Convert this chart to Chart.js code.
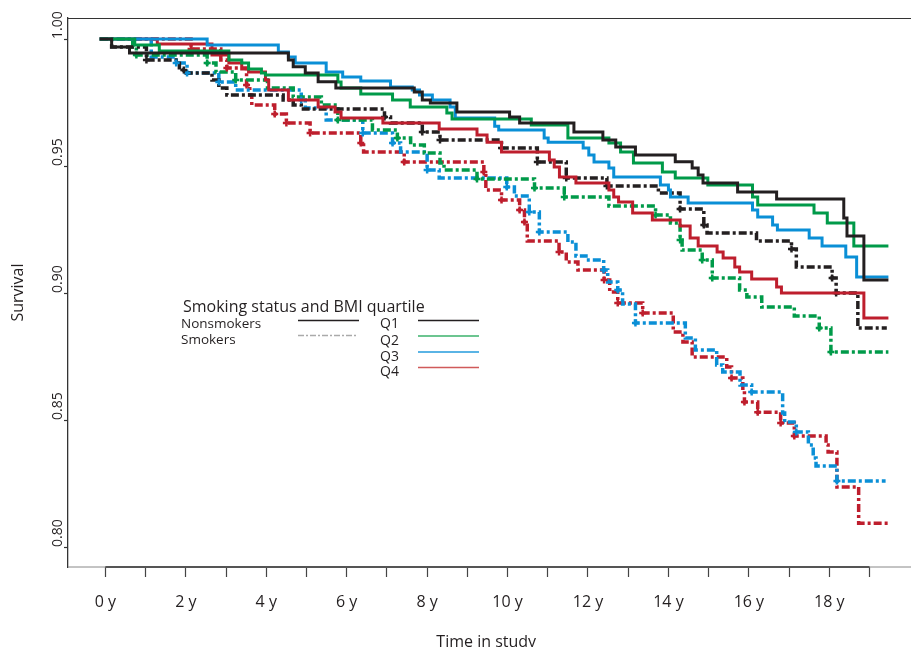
<!DOCTYPE html>
<html>
<head>
<meta charset="utf-8">
<script src="https://cdn.jsdelivr.net/npm/chart.js@4.4.1/dist/chart.umd.min.js"></script>
<style>
  html, body { margin: 0; padding: 0; background: #ffffff; }
  canvas { display: block; }
</style>
</head>
<body>
<canvas id="c" width="911" height="647"></canvas>
<script>
// ---------- Data (time in years, Kaplan-Meier survival) ----------
const xTickValues = [0,1,2,3,4,5,6,7,8,9,10,11,12,13,14,15,16,17,18,19];
const xTickLabels = ['0 y','','2 y','','4 y','','6 y','','8 y','','10 y','','12 y','','14 y','','16 y','','18 y',''];
const yTickValues = [0.80, 0.85, 0.90, 0.95, 1.00];
const yTickLabels = ['0.80', '0.85', '0.90', '0.95', '1.00'];

// Nonsmokers
const nonQ1Time = [-0.14, 0.155, 0.60, 4.55, 4.67, 4.97, 5.29, 5.73, 7.68, 7.88, 8.08, 8.74, 10.05, 10.30, 11.65, 12.37, 12.69, 13.18, 14.17, 14.59, 14.74, 14.86, 15.72, 16.69, 18.36, 18.44, 18.86, 19.47];
const nonQ1Surv = [1.0, .9969, .9945, .9917, .9891, .9866, .9832, .9807, .9791, .9760, .9748, .9713, .9693, .9669, .9634, .9602, .9575, .9543, .9517, .9492, .9465, .9433, .9398, .9370, .9295, .9224, .9051, .9051];

const nonQ2Time = [-0.14, 0.73, 1.34, 3.07, 3.39, 3.56, 3.88, 3.98, 5.78, 5.86, 6.35, 7.14, 7.58, 8.49, 8.62, 10.59, 11.50, 12.52, 12.81, 13.13, 13.85, 14.17, 14.98, 16.09, 16.22, 17.62, 17.95, 18.61, 19.47];
const nonQ2Surv = [1.0, .9976, .9953, .9917, .9906, .9882, .9866, .9858, .9831, .9807, .9783, .9760, .9732, .9709, .9685, .9661, .9610, .9591, .9555, .9512, .9476, .9453, .9425, .9378, .9346, .9315, .9276, .9185, .9185];

const nonQ3Time = [-0.14, 2.53, 4.30, 4.55, 4.72, 5.49, 5.90, 6.35, 7.09, 7.63, 7.81, 8.13, 8.57, 8.70, 9.68, 9.78, 10.91, 11.01, 11.88, 12.02, 12.15, 12.52, 12.64, 13.80, 14.00, 14.05, 14.49, 16.09, 16.22, 16.59, 16.71, 17.50, 17.82, 18.41, 18.68, 19.47];
const nonQ3Surv = [1.0, .9976, .9949, .9929, .9906, .9870, .9850, .9835, .9811, .9799, .9780, .9760, .9732, .9689, .9657, .9642, .9610, .9594, .9571, .9543, .9516, .9492, .9457, .9425, .9406, .9378, .9354, .9327, .9299, .9268, .9248, .9217, .9185, .9142, .9063, .9063];

const nonQ4Time = [-0.14, 1.29, 2.65, 3.07, 3.39, 3.56, 3.98, 4.06, 4.55, 5.29, 5.71, 5.86, 6.90, 8.30, 9.24, 9.49, 9.85, 11.04, 11.16, 11.29, 11.70, 12.52, 12.64, 12.76, 13.11, 13.60, 14.29, 14.54, 14.74, 15.21, 15.36, 15.65, 15.77, 16.07, 16.69, 16.81, 18.86, 19.47];
const nonQ4Surv = [1.0, .9980, .9937, .9906, .9882, .9870, .9839, .9799, .9760, .9732, .9713, .9689, .9669, .9646, .9622, .9594, .9555, .9524, .9496, .9457, .9433, .9406, .9378, .9358, .9315, .9287, .9264, .9217, .9185, .9161, .9138, .9102, .9083, .9055, .9024, .9000, .8902, .8902];

// Smokers
const smkQ1Time = [-0.14, 0.155, 1.02, 1.84, 2.01, 2.65, 2.82, 3.02, 4.42, 4.67, 4.87, 6.94, 7.09, 7.88, 8.32, 9.85, 10.74, 11.46, 12.47, 13.75, 14.29, 14.88, 14.96, 16.19, 17.06, 17.18, 18.07, 18.17, 18.71, 19.43];
const smkQ1Surv = [1.0, .9969, .9917, .9878, .9866, .9839, .9807, .9780, .9760, .9740, .9724, .9693, .9669, .9634, .9602, .9571, .9516, .9453, .9421, .9394, .9331, .9268, .9236, .9205, .9173, .9102, .9059, .9000, .8862, .8862];

const smkQ2Time = [-0.14, 0.68, 0.77, 2.53, 2.75, 3.24, 4.03, 4.67, 5.37, 5.78, 6.64, 7.26, 7.59, 7.93, 8.32, 8.42, 9.24, 10.67, 11.41, 12.52, 13.68, 14.05, 14.29, 14.34, 14.84, 15.09, 15.77, 15.95, 16.32, 17.13, 17.75, 18.04, 19.47];
const smkQ2Surv = [1.0, .9969, .9937, .9906, .9870, .9839, .9807, .9772, .9740, .9681, .9642, .9610, .9583, .9551, .9512, .9484, .9449, .9413, .9378, .9343, .9307, .9276, .9209, .9169, .9130, .9059, .9012, .8984, .8945, .8909, .8862, .8768, .8768];

const smkQ3Time = [-0.14, 1.14, 1.76, 2.03, 2.82, 3.24, 4.87, 4.97, 5.49, 6.40, 7.14, 7.34, 8.00, 8.30, 9.98, 10.17, 10.54, 10.79, 11.50, 11.70, 11.95, 12.39, 12.49, 12.74, 12.86, 13.18, 14.42, 14.67, 15.20, 15.35, 15.78, 16.07, 16.84, 16.89, 17.18, 17.48, 17.60, 17.67, 18.19, 19.40];
const smkQ3Surv = [1.0, .9929, .9906, .9866, .9831, .9799, .9760, .9728, .9681, .9630, .9591, .9555, .9484, .9453, .9417, .9382, .9319, .9240, .9201, .9146, .9130, .9091, .9043, .9012, .8957, .8882, .8823, .8776, .8717, .8689, .8638, .8610, .8528, .8492, .8453, .8402, .8350, .8319, .8260, .8260];

const smkQ4Time = [-0.14, 2.13, 2.87, 3.02, 3.51, 3.59, 3.64, 4.21, 4.50, 5.09, 6.35, 6.42, 7.43, 9.41, 9.46, 9.85, 10.30, 10.42, 10.49, 11.28, 11.46, 11.75, 12.40, 12.54, 12.74, 13.36, 14.12, 14.36, 14.59, 15.45, 15.57, 15.85, 15.89, 16.22, 16.79, 17.13, 17.92, 17.97, 18.19, 18.73, 19.47];
const smkQ4Surv = [1.0, .9961, .9917, .9886, .9819, .9780, .9740, .9705, .9669, .9630, .9591, .9555, .9516, .9476, .9406, .9366, .9327, .9280, .9205, .9161, .9122, .9091, .9051, .9004, .8961, .8921, .8846, .8807, .8748, .8709, .8665, .8618, .8571, .8531, .8488, .8437, .8402, .8374, .8236, .8094, .8094];

// Censoring marks on the smokers' curves (times in years)
const smkQ1Censor = [1.02, 1.95, 6.94, 7.88, 8.32, 9.85, 10.74, 11.46, 12.47, 14.29, 14.88, 17.06, 18.07, 18.17];
const smkQ2Censor = [0.77, 2.53, 3.24, 5.78, 7.26, 9.24, 10.67, 11.41, 13.68, 14.29, 14.84, 15.09, 17.75, 18.04];
const smkQ3Censor = [1.76, 2.03, 2.82, 4.87, 6.40, 7.14, 8.00, 9.98, 10.54, 10.79, 12.39, 12.74, 13.18, 16.07, 17.18, 18.19];
const smkQ4Censor = [2.13, 3.02, 3.51, 4.21, 4.50, 5.09, 6.35, 7.43, 9.41, 9.85, 10.30, 10.42, 11.28, 12.40, 12.74, 13.36, 15.57, 15.89, 16.22, 16.79, 17.13];

// ---------- Styling ----------
const X_MIN = -0.93, X_MAX = 19.87;
const Y_MIN = 0.79213, Y_MAX = 1.00827;
const COLORS = { q1: '#231f20', q2: '#009a49', q3: '#0a8fd6', q4: '#be1e2d' };
const DASH = [8, 3, 3, 3];
const FONT = "'Open Sans', 'Noto Sans', sans-serif";
Chart.defaults.font.family = FONT;

function pts(t, s) { return t.map((v, i) => ({ x: v, y: s[i] })); }
function levelAt(t, s, tc) {
  let k = 0;
  for (let i = 0; i < t.length; i++) { if (t[i] <= tc + 1e-9) k = i; }
  return s[k];
}

function ds(label, t, s, color, dashed) {
  return {
    label,
    data: pts(t, s),
    borderColor: color,
    backgroundColor: color,
    borderWidth: dashed ? 3.5 : 3,
    borderDash: dashed ? DASH : [],
    stepped: true,
    pointRadius: 0,
    fill: false,
    tension: 0
  };
}
function censorDs(label, t, s, c, color) {
  return {
    label,
    data: c.map(tc => ({ x: tc, y: levelAt(t, s, tc) })),
    showLine: false,
    pointStyle: 'cross',
    pointRadius: 3.5,
    pointBorderWidth: 2.5,
    pointBorderColor: color,
    pointBackgroundColor: color,
    borderColor: color
  };
}

const datasets = [
  ds('Nonsmokers Q1', nonQ1Time, nonQ1Surv, COLORS.q1, false),
  ds('Nonsmokers Q2', nonQ2Time, nonQ2Surv, COLORS.q2, false),
  ds('Nonsmokers Q3', nonQ3Time, nonQ3Surv, COLORS.q3, false),
  ds('Nonsmokers Q4', nonQ4Time, nonQ4Surv, COLORS.q4, false),
  censorDs('Smokers Q1 censored', smkQ1Time, smkQ1Surv, smkQ1Censor, COLORS.q1),
  censorDs('Smokers Q2 censored', smkQ2Time, smkQ2Surv, smkQ2Censor, COLORS.q2),
  censorDs('Smokers Q3 censored', smkQ3Time, smkQ3Surv, smkQ3Censor, COLORS.q3),
  censorDs('Smokers Q4 censored', smkQ4Time, smkQ4Surv, smkQ4Censor, COLORS.q4),
  ds('Smokers Q1', smkQ1Time, smkQ1Surv, COLORS.q1, true),
  ds('Smokers Q2', smkQ2Time, smkQ2Surv, COLORS.q2, true),
  ds('Smokers Q3', smkQ3Time, smkQ3Surv, COLORS.q3, true),
  ds('Smokers Q4', smkQ4Time, smkQ4Surv, COLORS.q4, true)
];

// Frame: top border line, thin bottom frame line and the darker axis segment from first to last tick
const framePlugin = {
  id: 'frame',
  afterDraw(chart) {
    const { ctx, chartArea } = chart;
    const xs = chart.scales.x;
    ctx.save();
    ctx.strokeStyle = '#333';
    ctx.lineWidth = 1.2;
    ctx.beginPath();
    ctx.moveTo(chartArea.left, chartArea.top + 0.5);
    ctx.lineTo(chart.width, chartArea.top + 0.5);
    ctx.stroke();
    ctx.strokeStyle = '#888';
    ctx.lineWidth = 1;
    ctx.beginPath();
    ctx.moveTo(chartArea.left, chartArea.bottom);
    ctx.lineTo(chart.width, chartArea.bottom);
    ctx.stroke();
    ctx.strokeStyle = '#555';
    ctx.lineWidth = 2;
    ctx.beginPath();
    ctx.moveTo(xs.getPixelForValue(xTickValues[0]), chartArea.bottom);
    ctx.lineTo(xs.getPixelForValue(xTickValues[xTickValues.length - 1]), chartArea.bottom);
    ctx.stroke();
    ctx.restore();
  }
};

// Custom two-column legend drawn inside the plot
const legendPlugin = {
  id: 'kmLegend',
  afterDraw(chart) {
    const { ctx, chartArea } = chart;
    const L = chartArea.left, T = chartArea.top;
    ctx.save();
    ctx.fillStyle = '#231f20';
    ctx.textBaseline = 'middle';
    ctx.textAlign = 'left';
    ctx.font = "16px " + FONT;
    ctx.fillText('Smoking status and BMI quartile', L + 115, T + 289);
    ctx.font = "13.5px " + FONT;
    ctx.fillText('Nonsmokers', L + 113, T + 306);
    ctx.fillText('Smokers', L + 113, T + 322);
    ctx.font = "14px " + FONT;
    ctx.fillText('Q1', L + 312, T + 306);
    ctx.fillText('Q2', L + 312, T + 323);
    ctx.fillText('Q3', L + 312, T + 339);
    ctx.fillText('Q4', L + 312, T + 354);

    function sample(x1, x2, y, color, w, dash) {
      ctx.beginPath();
      ctx.strokeStyle = color;
      ctx.lineWidth = w;
      ctx.setLineDash(dash || []);
      ctx.moveTo(L + x1, T + y);
      ctx.lineTo(L + x2, T + y);
      ctx.stroke();
    }
    sample(230, 291, 302.5, '#231f20', 1.5);
    sample(230, 289, 317.5, '#aaaaaa', 1.5, [6, 2, 2, 2]);
    sample(350, 411, 302.5, '#231f20', 1.5);
    sample(350, 411, 318, '#6cc590', 2);
    sample(350, 411, 334, '#5ab4e5', 2);
    sample(350, 411, 349.5, '#d05a5a', 1.5);
    ctx.restore();
  }
};

new Chart(document.getElementById('c').getContext('2d'), {
  type: 'line',
  data: { datasets },
  options: {
    responsive: false,
    animation: false,
    layout: { padding: { left: 51, top: 18, right: 0, bottom: 0 } },
    plugins: { legend: { display: false }, tooltip: { enabled: false } },
    elements: { point: { radius: 0 } },
    scales: {
      x: {
        type: 'linear',
        min: X_MIN,
        max: X_MAX,
        afterBuildTicks: (s) => { s.ticks = xTickValues.map(v => ({ value: v })); },
        afterFit: (s) => { s.height = 80; s.paddingLeft = 0; s.paddingRight = 0; },
        grid: { drawOnChartArea: false, drawTicks: true, tickLength: 10, color: '#444', tickWidth: 1.2 },
        border: { display: false },
        ticks: {
          autoSkip: false,
          maxRotation: 0,
          minRotation: 0,
          padding: 16,
          color: '#231f20',
          font: { size: 16, family: FONT },
          callback: (v) => { const i = xTickValues.indexOf(v); return i >= 0 ? xTickLabels[i] : ''; }
        },
        title: {
          display: true,
          text: 'Time in study',
          color: '#231f20',
          font: { size: 16, family: FONT },
          padding: { top: 0, bottom: -5 }
        }
      },
      y: {
        type: 'linear',
        min: Y_MIN,
        max: Y_MAX,
        afterBuildTicks: (s) => { s.ticks = yTickValues.map(v => ({ value: v })); },
        afterFit: (s) => { s.width = 17; s.paddingLeft = 0; s.paddingRight = 0; s.paddingTop = 0; s.paddingBottom = 0; },
        grid: { drawOnChartArea: false, drawTicks: true, tickLength: 4, color: '#333', tickWidth: 1.2 },
        border: { display: true, color: '#333', width: 1.3 },
        ticks: {
          autoSkip: false,
          minRotation: 90,
          maxRotation: 90,
          crossAlign: 'far',
          align: 'start',
          padding: 0,
          color: '#231f20',
          font: { size: 14, family: FONT },
          callback: (v) => { const i = yTickValues.findIndex(t => Math.abs(t - v) < 1e-9); return i >= 0 ? yTickLabels[i] : ''; }
        },
        title: {
          display: true,
          text: 'Survival',
          color: '#231f20',
          font: { size: 16, family: FONT },
          padding: { top: -42, bottom: 0 }
        }
      }
    }
  },
  plugins: [framePlugin, legendPlugin]
});
</script>
</body>
</html>
